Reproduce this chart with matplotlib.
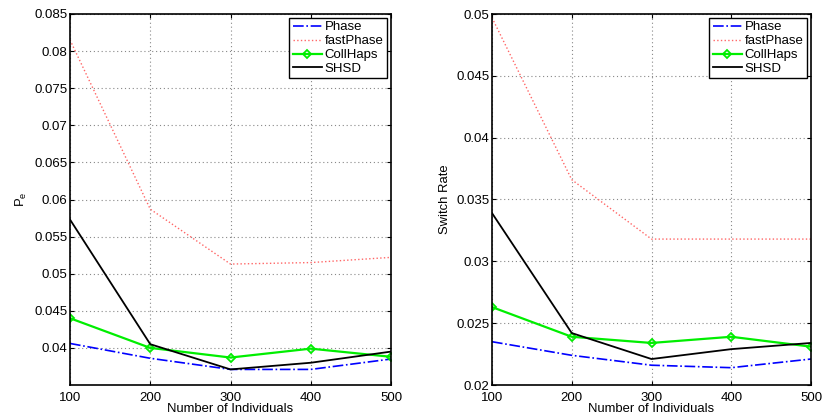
import matplotlib
matplotlib.use("Agg")
import matplotlib.pyplot as plt

plt.rcParams['font.family'] = ['Liberation Sans', 'DejaVu Sans']

individuals = [100, 200, 300, 400, 500]

# error probability P_e
pe_phase = [0.0406, 0.0386, 0.0371, 0.0371, 0.0385]
pe_fastphase = [0.0815, 0.0587, 0.0513, 0.0515, 0.0522]
pe_collhaps = [0.0440, 0.0400, 0.0387, 0.0399, 0.0388]
pe_shsd = [0.0573, 0.0405, 0.0371, 0.0380, 0.0395]

# switch rate
sr_phase = [0.0235, 0.0224, 0.0216, 0.0214, 0.0221]
sr_fastphase = [0.0497, 0.0366, 0.0318, 0.0318, 0.0318]
sr_collhaps = [0.0263, 0.0239, 0.0234, 0.0239, 0.0231]
sr_shsd = [0.0339, 0.0242, 0.0221, 0.0229, 0.0234]

pe_ticks = [0.04, 0.045, 0.05, 0.055, 0.06, 0.065, 0.07, 0.075, 0.08, 0.085]
pe_ticklabels = ['0.04', '0.045', '0.05', '0.055', '0.06', '0.065', '0.07', '0.075', '0.08', '0.085']
sr_ticks = [0.02, 0.025, 0.03, 0.035, 0.04, 0.045, 0.05]
sr_ticklabels = ['0.02', '0.025', '0.03', '0.035', '0.04', '0.045', '0.05']


def draw_panel(ax, phase, fastphase, collhaps, shsd, ylim, ticks, ticklabels, ylabel):
    ax.plot(individuals, phase, color='blue', linestyle='-.', lw=1.2, label='Phase')
    ax.plot(individuals, fastphase, color='#ff6666', linestyle=':', lw=1.0, label='fastPhase')
    ax.plot(individuals, collhaps, color='#00ee00', lw=1.6, marker='D', ms=4.5,
            mfc='none', mec='#00ee00', mew=1.3, label='CollHaps')
    ax.plot(individuals, shsd, color='black', lw=1.3, label='SHSD')

    ax.set_xlim(100, 500)
    ax.set_ylim(*ylim)
    ax.set_xticks(individuals)
    ax.set_yticks(ticks)
    ax.set_yticklabels(ticklabels)
    ax.grid(True, color='#888888', linestyle=(0, (1, 2.5)), lw=0.8)
    ax.tick_params(direction='in', top=True, right=True, labelsize=9.5, length=3)
    ax.tick_params(axis='y', pad=2)
    ax.tick_params(axis='x', pad=5)
    for s in ax.spines.values():
        s.set_linewidth(1.2)
    ax.set_xlabel('Number of Individuals', fontsize=9.4, labelpad=-1)
    ax.set_ylabel(ylabel, fontsize=9.4, labelpad=4)
    leg = ax.legend(loc='upper right', fontsize=9.5, fancybox=False, framealpha=1,
                    borderpad=0.25, labelspacing=0.12, handlelength=2.2,
                    handletextpad=0.25, borderaxespad=0.3)
    leg.get_frame().set_edgecolor('black')
    leg.get_frame().set_linewidth(1.0)


fig = plt.figure(figsize=(8.22, 4.18), dpi=100)
ax1 = fig.add_axes([70 / 822, 1 - 385 / 418, 321 / 822, 371 / 418])
ax2 = fig.add_axes([492 / 822, 1 - 385 / 418, 319 / 822, 371 / 418])

draw_panel(ax1, pe_phase, pe_fastphase, pe_collhaps, pe_shsd,
           (0.035, 0.085), pe_ticks, pe_ticklabels, r'$\mathregular{P_e}$')
draw_panel(ax2, sr_phase, sr_fastphase, sr_collhaps, sr_shsd,
           (0.02, 0.05), sr_ticks, sr_ticklabels, 'Switch Rate')

fig.savefig('out.png', dpi=100)
